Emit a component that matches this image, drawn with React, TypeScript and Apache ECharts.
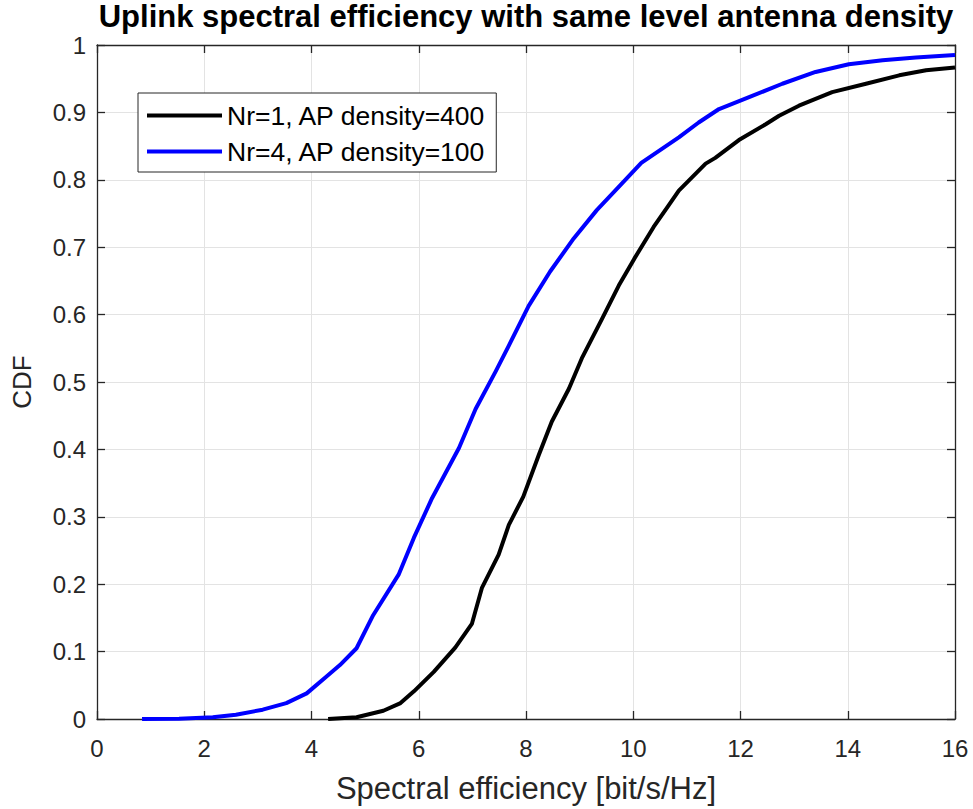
import React, { useEffect, useRef } from "react";
import * as echarts from "echarts";

const titleText = "Uplink spectral efficiency with same level antenna density";
const xAxisName = "Spectral efficiency [bit/s/Hz]";
const yAxisName = "CDF";
const seriesNames = ["Nr=1, AP density=400", "Nr=4, AP density=100"];
const seriesColors = ["#000000", "#0000ff"];

const blackX = [4.31, 4.84, 5.34, 5.66, 5.91, 6.28, 6.68, 6.99, 7.18, 7.49, 7.68, 7.95, 8.24, 8.48, 8.8, 9.04, 9.42, 9.73, 10.02, 10.38, 10.66, 10.85, 11.35, 11.53, 11.97, 12.47, 12.72, 13.09, 13.71, 14.34, 14.96, 15.46, 16.0];
const blackY = [0, 0.0025, 0.0123, 0.0236, 0.041, 0.07, 0.106, 0.141, 0.195, 0.244, 0.288, 0.33, 0.392, 0.441, 0.49, 0.535, 0.594, 0.643, 0.683, 0.73, 0.762, 0.784, 0.824, 0.8325, 0.859, 0.8825, 0.895, 0.91, 0.93, 0.9425, 0.955, 0.9625, 0.9665];

const blueX = [0.84, 1.53, 2.16, 2.59, 3.09, 3.53, 3.91, 4.28, 4.53, 4.84, 5.15, 5.63, 5.91, 6.25, 6.75, 7.06, 7.43, 7.68, 8.05, 8.45, 8.89, 9.32, 9.76, 10.15, 10.85, 11.22, 11.6, 12.16, 12.78, 13.4, 14.02, 14.65, 15.27, 16.0];
const blueY = [0, 0.0005, 0.0025, 0.0064, 0.0138, 0.0236, 0.038, 0.063, 0.08, 0.105, 0.154, 0.215, 0.269, 0.328, 0.402, 0.46, 0.515, 0.554, 0.613, 0.664, 0.713, 0.755, 0.792, 0.825, 0.863, 0.885, 0.905, 0.9225, 0.9425, 0.96, 0.9715, 0.9775, 0.9815, 0.985];

const xMin = 0, xMax = 16, xStep = 2;
const yMin = 0, yMax = 1, yStep = 0.1;

const zip = (xs: number[], ys: number[]) => xs.map((x, i) => [x, ys[i]]);

export default function App() {
  const ref = useRef<HTMLDivElement>(null);
  useEffect(() => {
    if (!ref.current) return;
    const chart = echarts.init(ref.current, undefined, { renderer: "svg" });
    const font = "'Liberation Sans', Arial, Helvetica, sans-serif";
    const axisColor = "#262626";
    const gridColor = "#e3e3e3";
    const common = {
      axisLine: { show: true, onZero: false, lineStyle: { color: axisColor, width: 1.3 } },
      axisTick: { show: true, inside: true, length: 8, lineStyle: { color: axisColor, width: 1.3 } },
    };
    chart.setOption({
      animation: false,
      backgroundColor: "#ffffff",
      title: {
        text: titleText,
        left: 526,
        textAlign: "center",
        top: 1,
        padding: 0,
        textStyle: { fontFamily: font, fontWeight: "bold", fontSize: 31, color: "#000000" },
      },
      legend: {
        orient: "vertical",
        left: 138,
        top: 93,
        padding: [9, 10, 7, 9],
        itemGap: 9,
        itemWidth: 75,
        itemHeight: 4,
        icon: "rect",
        backgroundColor: "#ffffff",
        borderColor: axisColor,
        borderWidth: 1,
        borderRadius: 0,
        textStyle: { fontFamily: font, fontSize: 26.5, color: "#000000", lineHeight: 26 },
        data: seriesNames,
      },
      grid: { left: 97, right: 18, top: 45, bottom: 88, containLabel: false },
      xAxis: [
        {
          type: "value", min: xMin, max: xMax, interval: xStep, position: "bottom",
          name: xAxisName, nameLocation: "middle", nameGap: 54,
          nameTextStyle: { fontFamily: font, fontSize: 31, color: axisColor },
          ...common,
          axisLabel: { margin: 17, fontFamily: font, fontSize: 24, color: axisColor },
          splitLine: { show: true, lineStyle: { color: gridColor, width: 1 } },
        },
        {
          type: "value", min: xMin, max: xMax, interval: xStep, position: "top",
          ...common,
          axisLabel: { show: false },
          splitLine: { show: false },
        },
      ],
      yAxis: [
        {
          type: "value", min: yMin, max: yMax, interval: yStep, position: "left",
          name: yAxisName, nameLocation: "middle", nameGap: 62,
          nameTextStyle: { fontFamily: font, fontSize: 26, color: axisColor },
          ...common,
          axisLabel: { margin: 11, fontFamily: font, fontSize: 24, color: axisColor, formatter: (v: number) => (Math.round(v * 10) / 10).toString() },
          splitLine: { show: true, lineStyle: { color: gridColor, width: 1 } },
        },
        {
          type: "value", min: yMin, max: yMax, interval: yStep, position: "right",
          ...common,
          axisLabel: { show: false },
          splitLine: { show: false },
        },
      ],
      series: [
        {
          name: seriesNames[0], type: "line", data: zip(blackX, blackY), showSymbol: false, symbol: "none",
          lineStyle: { color: seriesColors[0], width: 4, join: "round" }, itemStyle: { color: seriesColors[0] },
        },
        {
          name: seriesNames[1], type: "line", data: zip(blueX, blueY), showSymbol: false, symbol: "none",
          lineStyle: { color: seriesColors[1], width: 4, join: "round" }, itemStyle: { color: seriesColors[1] },
        },
      ],
    });
    return () => chart.dispose();
  }, []);
  return <div ref={ref} style={{ position: "fixed", left: 0, top: 0, width: 973, height: 809 }} />;
}
